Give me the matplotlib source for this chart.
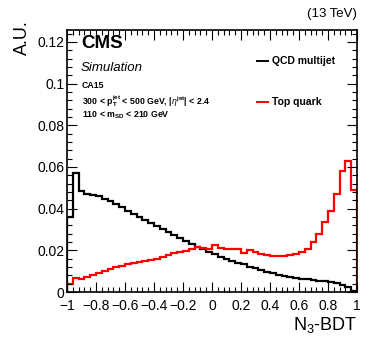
import numpy as np
import matplotlib
matplotlib.use("Agg")
import matplotlib.pyplot as plt
from matplotlib.ticker import MultipleLocator, FuncFormatter

plt.rcParams['font.family'] = ['Liberation Sans', 'DejaVu Sans']
plt.rcParams['mathtext.fontset'] = 'custom'
plt.rcParams['mathtext.rm'] = 'Liberation Sans'
plt.rcParams['mathtext.it'] = 'Liberation Sans:italic'
plt.rcParams['mathtext.bf'] = 'Liberation Sans:bold'

bin_edges = np.linspace(-1, 1, 51)

qcd_multijet = [
    0.036, 0.057, 0.0485, 0.047, 0.0467, 0.046, 0.0447, 0.0435, 0.042, 0.0408,
    0.0388, 0.0373, 0.0358, 0.0344, 0.033, 0.0316, 0.0300, 0.0286, 0.0272, 0.0258,
    0.0244, 0.023, 0.0217, 0.0205, 0.0193, 0.0181, 0.017, 0.0160, 0.0150, 0.0141,
    0.0132, 0.0122, 0.0113, 0.0105, 0.0097, 0.009, 0.0083, 0.0077, 0.0072, 0.0067,
    0.0063, 0.006, 0.0057, 0.0054, 0.0051, 0.0047, 0.0042, 0.0033, 0.0022, 0.0007,
]

top_quark = [
    0.0038, 0.0068, 0.0062, 0.007, 0.0082, 0.0092, 0.0103, 0.0112, 0.012, 0.0125,
    0.0132, 0.0137, 0.0142, 0.0147, 0.0155, 0.016, 0.0168, 0.0178, 0.0185, 0.019,
    0.0198, 0.0207, 0.0216, 0.0212, 0.0205, 0.0225, 0.0212, 0.0205, 0.0207, 0.0207,
    0.0188, 0.0202, 0.019, 0.0183, 0.0178, 0.0173, 0.0172, 0.0172, 0.0176, 0.0183,
    0.019, 0.0205, 0.024, 0.028, 0.0337, 0.039, 0.047, 0.058, 0.063, 0.049,
]

x_ticks = [-1, -0.8, -0.6, -0.4, -0.2, 0, 0.2, 0.4, 0.6, 0.8, 1]
y_ticks = [0, 0.02, 0.04, 0.06, 0.08, 0.1, 0.12]

W, H = 374, 343
fig = plt.figure(figsize=(W / 100, H / 100), dpi=100)
L, R, T, B = 67, 357, 30, 292
ax = fig.add_axes([L / W, 1 - B / H, (R - L) / W, (B - T) / H])

ax.stairs(qcd_multijet, bin_edges, color='black', lw=1.6, baseline=0)
ax.stairs(top_quark, bin_edges, color='#ff0000', lw=1.6, baseline=0)

ax.set_xlim(-1, 1)
ax.set_ylim(0, 0.1257)
ax.set_xticks(x_ticks)
ax.set_yticks(y_ticks)
ax.xaxis.set_minor_locator(MultipleLocator(0.04))
ax.yaxis.set_minor_locator(MultipleLocator(0.004))

def fmt(v, pos):
    s = ('%g' % round(v, 6))
    return s.replace('-', '\u2212')

ax.xaxis.set_major_formatter(FuncFormatter(fmt))
ax.yaxis.set_major_formatter(FuncFormatter(fmt))
ax.tick_params(which='both', direction='in', top=True, right=True, width=0.8, labelsize=10)
ax.tick_params(which='major', length=7)
ax.tick_params(which='minor', length=3.5)
ax.tick_params(axis='x', pad=5)
ax.tick_params(axis='y', pad=2)
for s in ax.spines.values():
    s.set_linewidth(1.2)

fig.text(22 / W, 1 - 20 / H, 'A.U.', rotation=90, ha='center', va='top', fontsize=13)
fig.text(R / W, 1 - 335 / H, r'N$_{3}$-BDT', ha='right', va='bottom', fontsize=13)
fig.text(R / W, 1 - 20 / H, '(13 TeV)', ha='right', va='bottom', fontsize=9.5)

fig.text(81 / W, 1 - 43 / H, 'CMS', ha='left', va='center', fontsize=13.5, fontweight='bold')
fig.text(81 / W, 1 - 68 / H, 'Simulation', ha='left', va='center', fontsize=9.5, style='italic')
fig.text(82 / W, 1 - 86 / H, 'CA15', ha='left', va='center', fontsize=6.3, fontweight='bold')
fig.text(82 / W, 1 - 101.5 / H,
         r'300 < p$_{\mathbf{T}}^{\mathbf{jet}}$ < 500 GeV, |$\eta^{\mathbf{jet}}$| < 2.4',
         ha='left', va='center', fontsize=6.3, fontweight='bold')
fig.text(82 / W, 1 - 115.5 / H, r'110 < m$_{\mathbf{SD}}$ < 210 GeV',
         ha='left', va='center', fontsize=6.3, fontweight='bold')

# legend
for yy, col, lab in [(60.7, 'black', 'QCD multijet'), (101.7, '#ff0000', 'Top quark')]:
    fig.add_artist(plt.Line2D([257 / W, 268 / W], [1 - yy / H, 1 - yy / H], color=col, lw=1.4))
    fig.text(272 / W, 1 - yy / H, lab, ha='left', va='center', fontsize=7.5, fontweight='bold')

fig.savefig('out.png', dpi=100)
